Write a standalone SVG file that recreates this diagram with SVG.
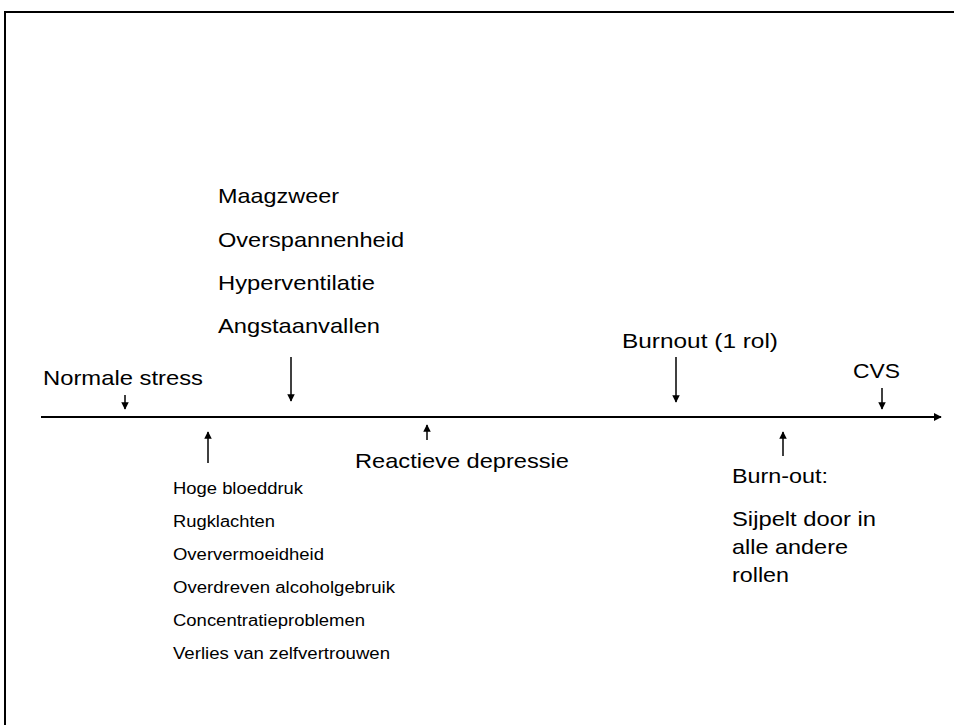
<svg xmlns="http://www.w3.org/2000/svg" width="954" height="725" viewBox="0 0 954 725">
<defs>
<style>
.t{font-family:"Liberation Sans",Arial,sans-serif;fill:#000}
.b{font-size:21px}
.s{font-size:16px}
.ln{stroke:#000;fill:none}
</style>
<marker id="ah" viewBox="0 0 10 10" refX="9" refY="5" markerWidth="4" markerHeight="4" orient="auto" markerUnits="strokeWidth">
<path d="M0,0 L10,5 L0,10 z" fill="#000"/>
</marker>
<marker id="ahs" viewBox="0 0 10 10" refX="9" refY="5" markerWidth="5" markerHeight="5" orient="auto" markerUnits="strokeWidth">
<path d="M0,0 L10,5 L0,10 z" fill="#000"/>
</marker>
</defs>
<rect width="954" height="725" fill="#fff"/>
<path d="M5,725 V12 H954" stroke="#000" stroke-width="2" fill="none"/>
<g id="connectors">
<line id="timeline" class="ln" x1="41" y1="417" x2="941" y2="417" stroke-width="2" marker-end="url(#ah)"/>
<line class="ln" x1="125" y1="395" x2="125" y2="409" stroke-width="1.5" marker-end="url(#ahs)"/>
<line class="ln" x1="291" y1="357" x2="291" y2="401" stroke-width="1.5" marker-end="url(#ahs)"/>
<line class="ln" x1="676" y1="357" x2="676" y2="402" stroke-width="1.5" marker-end="url(#ahs)"/>
<line class="ln" x1="882" y1="388" x2="882" y2="409" stroke-width="1.5" marker-end="url(#ahs)"/>
<line class="ln" x1="208" y1="463" x2="208" y2="432" stroke-width="1.5" marker-end="url(#ahs)"/>
<line class="ln" x1="427" y1="440" x2="427" y2="425" stroke-width="1.5" marker-end="url(#ahs)"/>
<line class="ln" x1="783" y1="456" x2="783" y2="432" stroke-width="1.5" marker-end="url(#ahs)"/>
</g>
<g id="normale-stress">
<text class="t b" x="43" y="385" textLength="160" lengthAdjust="spacingAndGlyphs">Normale stress</text>
</g>
<g id="klachten-boven">
<text class="t b" x="218" y="203" textLength="121" lengthAdjust="spacingAndGlyphs">Maagzweer</text>
<text class="t b" x="218" y="247" textLength="186" lengthAdjust="spacingAndGlyphs">Overspannenheid</text>
<text class="t b" x="218" y="290" textLength="157" lengthAdjust="spacingAndGlyphs">Hyperventilatie</text>
<text class="t b" x="218" y="333" textLength="162" lengthAdjust="spacingAndGlyphs">Angstaanvallen</text>
</g>
<g id="klachten-onder">
<text class="t s" x="173" y="494" textLength="130" lengthAdjust="spacingAndGlyphs">Hoge bloeddruk</text>
<text class="t s" x="173" y="527" textLength="102" lengthAdjust="spacingAndGlyphs">Rugklachten</text>
<text class="t s" x="173" y="560" textLength="151" lengthAdjust="spacingAndGlyphs">Oververmoeidheid</text>
<text class="t s" x="173" y="593" textLength="222" lengthAdjust="spacingAndGlyphs">Overdreven alcoholgebruik</text>
<text class="t s" x="173" y="626" textLength="192" lengthAdjust="spacingAndGlyphs">Concentratieproblemen</text>
<text class="t s" x="173" y="659" textLength="217" lengthAdjust="spacingAndGlyphs">Verlies van zelfvertrouwen</text>
</g>
<g id="reactieve-depressie">
<text class="t b" x="355" y="468" textLength="214" lengthAdjust="spacingAndGlyphs">Reactieve depressie</text>
</g>
<g id="burnout-1-rol">
<text class="t b" x="622" y="348" textLength="156" lengthAdjust="spacingAndGlyphs">Burnout (1 rol)</text>
</g>
<g id="cvs">
<text class="t b" x="853" y="378" textLength="47" lengthAdjust="spacingAndGlyphs">CVS</text>
</g>
<g id="burn-out">
<text class="t b" x="732" y="483" textLength="96" lengthAdjust="spacingAndGlyphs">Burn-out:</text>
<text class="t b" x="732" y="526" textLength="144" lengthAdjust="spacingAndGlyphs">Sijpelt door in</text>
<text class="t b" x="732" y="554" textLength="116" lengthAdjust="spacingAndGlyphs">alle andere</text>
<text class="t b" x="732" y="582" textLength="57" lengthAdjust="spacingAndGlyphs">rollen</text>
</g>
</svg>
